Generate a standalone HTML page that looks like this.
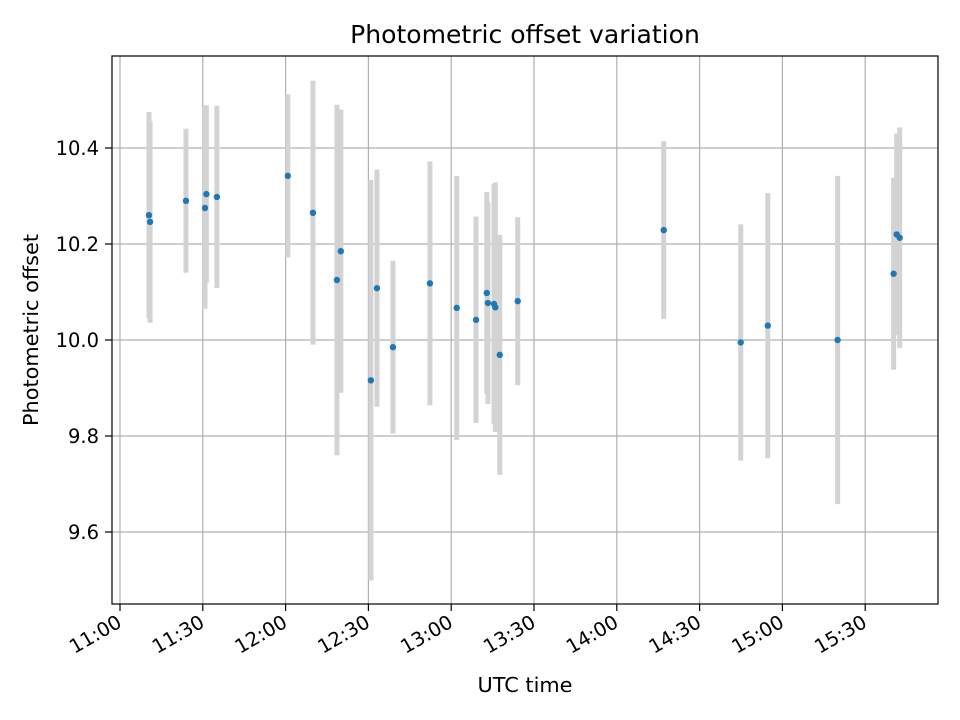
<!DOCTYPE html>
<html><head><meta charset="utf-8"><style>
body{margin:0;background:#fff;}
svg{display:block;font-family:"DejaVu Sans","Liberation Sans",sans-serif;}
</style></head><body>
<svg id="chart" width="960" height="720" viewBox="0 0 960 720">
<rect width="960" height="720" fill="#fff"/>
<g id="grid"></g><g id="bars"></g><g id="pts"></g><g id="axes"></g>
<text x="525" y="43" text-anchor="middle" font-size="16.7" fill="#000" style="font-size:16.7px" transform="translate(525,43) scale(1.5) translate(-525,-43)">Photometric offset variation</text>
<text x="525" y="692" text-anchor="middle" font-size="13.9" transform="translate(525,692) scale(1.5) translate(-525,-692)">UTC time</text>
<text transform="translate(38,330) rotate(-90) scale(1.5)" text-anchor="middle" font-size="13.9">Photometric offset</text>
</svg>
<script>
// minutes after 11:00 UTC
const times=[10.5,10.9,23.9,31.3,30.8,35.1,60.8,69.9,78.6,80,90.9,93.1,98.9,112.3,122,129,132.9,133.3,135.5,136,137.6,144.1,197,224.9,234.7,260,280.3,281.4,282.5];
const offsets=[10.26,10.246,10.29,10.304,10.275,10.298,10.342,10.265,10.125,10.185,9.916,10.108,9.985,10.118,10.067,10.042,10.098,10.077,10.075,10.068,9.969,10.081,10.229,9.995,10.03,10.0,10.138,10.22,10.213];
const errors=[0.215,0.21,0.15,0.185,0.21,0.19,0.17,0.275,0.365,0.295,0.417,0.247,0.18,0.254,0.275,0.215,0.21,0.21,0.25,0.26,0.25,0.175,0.185,0.246,0.276,0.342,0.2,0.21,0.23];
const xTicks=[0,30,60,90,120,150,180,210,240,270];
const xTickLabels=["11:00","11:30","12:00","12:30","13:00","13:30","14:00","14:30","15:00","15:30"];
const yTicks=[9.6,9.8,10.0,10.2,10.4];
const yTickLabels=["9.6","9.8","10.0","10.2","10.4"];
const L=112,R=938,T=56,B=604;
const xs=m=>120+m*(82.8/30);
const ys=v=>340-(v-10)*480;
const NS="http://www.w3.org/2000/svg";
function mk(tag,attrs,parent){const e=document.createElementNS(NS,tag);for(const k in attrs)e.setAttribute(k,attrs[k]);parent.appendChild(e);return e;}
const grid=document.getElementById('grid'),bars=document.getElementById('bars'),pts=document.getElementById('pts'),axes=document.getElementById('axes');
xTicks.forEach((t,i)=>{const x=xs(t);
 const g=mk('line',{x1:x,x2:x,y1:T,y2:B,stroke:'#b0b0b0','stroke-width':1.2},grid);
 
 
 mk('line',{x1:x,x2:x,y1:B,y2:B+7,stroke:'#000','stroke-width':1.2},axes);
 const tx=mk('text',{x:x+3,y:B+22,'text-anchor':'end','font-size':19.5,transform:`rotate(-30 ${x+3} ${B+22})`},axes);
 tx.textContent=xTickLabels[i];
 
 
});
yTicks.forEach((t,i)=>{const y=ys(t);
 const g=mk('line',{x1:L,x2:R,y1:y,y2:y,stroke:'#b0b0b0','stroke-width':1.2},grid);
 
 
 mk('line',{x1:L-7,x2:L,y1:y,y2:y,stroke:'#000','stroke-width':1.2},axes);
 const tx=mk('text',{x:L-13,y:y+7,'text-anchor':'end','font-size':19.5},axes);
 tx.textContent=yTickLabels[i];
 
 
});
const fr=mk('rect',{x:L,y:T,width:R-L,height:B-T,fill:'none',stroke:'#000','stroke-width':1.2},axes);


times.forEach((t,i)=>{const x=xs(t);
 const b=mk('line',{x1:x,x2:x,y1:ys(offsets[i]+errors[i]),y2:ys(offsets[i]-errors[i]),stroke:'#d3d3d3','stroke-width':5},bars);
 
 
});
times.forEach((t,i)=>{
 const c=mk('circle',{cx:xs(t),cy:ys(offsets[i]),r:3.2,fill:'#1f77b4'},pts);
 
 
});
</script>
</body></html>
